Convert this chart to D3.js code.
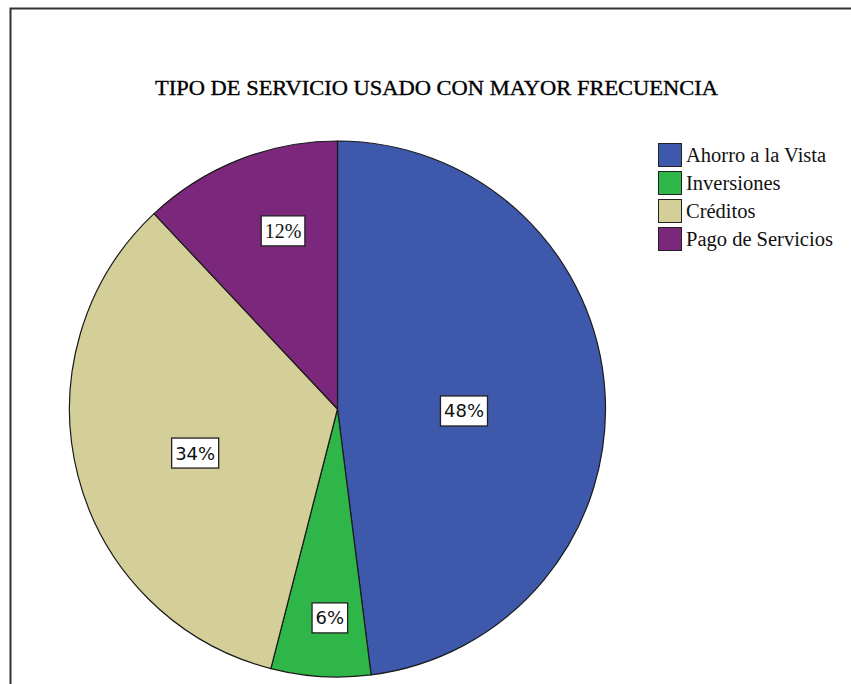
<!DOCTYPE html>
<html><head><meta charset="utf-8">
<script src="https://cdn.jsdelivr.net/npm/d3@7"></script>
<style>html,body{margin:0;padding:0;background:#fff;}svg{display:block;}</style>
</head><body>
<svg id="chart" width="851" height="684"></svg>
<script>
const categories = ["Ahorro a la Vista", "Inversiones", "Créditos", "Pago de Servicios"];
const values = [48, 6, 34, 12];
const colors = ["#3E58AC", "#2FB648", "#D4CE98", "#7B287C"];
const title = "TIPO DE SERVICIO USADO CON MAYOR FRECUENCIA";

// layout constants (label placement relative to slice mid-angle)
const labelRadiusFrac = [0.472, 0.78, 0.556, 0.695];
const labelAngleOffsetDeg = [4.5, -1.5, -2.8, 4.6];
const labelFonts = ["DejaVu Sans", "DejaVu Sans", "DejaVu Sans", "Liberation Serif"];

const svg = d3.select("#chart");
svg.append("rect").attr("x", 10.5).attr("y", 8.5).attr("width", 900).attr("height", 800)
  .attr("fill", "none").attr("stroke", "#333").attr("stroke-width", 2);

svg.append("text").attr("x", 436.5).attr("y", 95).attr("text-anchor", "middle")
  .attr("font-family", "Liberation Serif").attr("font-size", 21.5).attr("fill", "#000")
  .attr("stroke", "#000").attr("stroke-width", 0.35)
  .attr("textLength", 563).attr("lengthAdjust", "spacingAndGlyphs")
  .text(title);

const cx = 337.5, cy = 409, r = 268;
const g = svg.append("g").attr("transform", `translate(${cx},${cy})`);
const pie = d3.pie().sort(null).value(d => d);
const arcs = pie(values);
const arc = d3.arc().innerRadius(0).outerRadius(r);

g.selectAll("path.slice").data(arcs).join("path").attr("class", "slice")
  .attr("d", arc).attr("fill", (d, i) => colors[i])
  .attr("stroke", "#1a1a1a").attr("stroke-width", 1.2).attr("stroke-linejoin", "round");

arcs.forEach((d, i) => {
  const lr = r * labelRadiusFrac[i];
  const a = (d.startAngle + d.endAngle) / 2 + labelAngleOffsetDeg[i] * Math.PI / 180;
  const x = Math.sin(a) * lr, y = -Math.cos(a) * lr;
  const lg = g.append("g").attr("transform", `translate(${x},${y})`);
  const serif = labelFonts[i] === "Liberation Serif";
  const t = lg.append("text").attr("text-anchor", "middle").attr("dy", "0.36em")
    .attr("font-family", labelFonts[i]).attr("font-size", serif ? 20 : 18)
    .attr("fill", "#111").text(d.data + "%");
  const bb = t.node().getBBox();
  const w = Math.max(bb.width + 7, 35), h = 30;
  lg.insert("rect", "text").attr("x", -w / 2).attr("y", -h / 2).attr("width", w).attr("height", h)
    .attr("fill", "#fff").attr("stroke", "#222").attr("stroke-width", 1.3);
});

const legend = svg.append("g").attr("transform", "translate(658,143)");
categories.forEach((c, i) => {
  const row = legend.append("g").attr("transform", `translate(0,${i * 28})`);
  row.append("rect").attr("x", 0.5).attr("y", 0.5).attr("width", 23).attr("height", 23)
    .attr("fill", colors[i]).attr("stroke", "#222").attr("stroke-width", 1);
  row.append("text").attr("x", 28).attr("y", 19).attr("font-family", "Liberation Serif")
    .attr("font-size", 20.5).attr("fill", "#111").text(c);
});
</script>
</body></html>
